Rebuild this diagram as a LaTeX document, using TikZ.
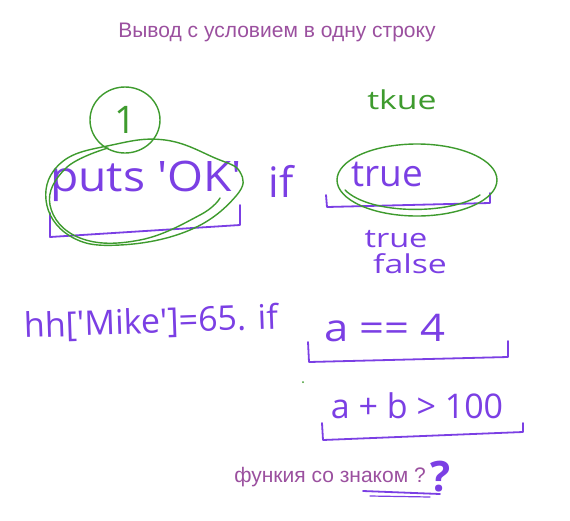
\documentclass[tikz,border=0pt]{standalone}
\usepackage{fontspec}
\setmainfont{Liberation Sans}
\newfontfamily\handfont{Open Sans}
\definecolor{inkviolet}{HTML}{7B3FE4}
\definecolor{inkgreen}{HTML}{3E9B2E}
\definecolor{titlepurple}{HTML}{9B509F}
\tikzset{every path/.style={line cap=round,line join=round}}
\tikzset{
  ink/.style={text=inkviolet, inner sep=0pt, font=\handfont\fontsize{34}{34}\selectfont},
  bigink/.style={ink, font=\handfont\fontsize{42}{42}\selectfont},
  smallink/.style={ink, font=\handfont\fontsize{26}{26}\selectfont},
  greenink/.style={draw=inkgreen, line width=1.4pt},
  bracketline/.style={draw=inkviolet, line width=1.8pt},
  caption/.style={text=titlepurple, inner sep=0pt, font=\fontsize{21}{21}\selectfont}
}

\begin{document}
\begin{tikzpicture}[x=1pt,y=-1pt]
% whiteboard page, pixel units, y grows downwards
	\useasboundingbox[fill=white] (0,0) rectangle (570,520);
	\node[caption] (title) at (277,32) {Вывод с условием в одну строку};
	%First line: puts 'OK' if true
	\node[bigink, xscale=1.1] (puts) at (146,181) {puts \textquotesingle OK\textquotesingle};
	\node[bigink] (ifa) at (281,181) {if};
	\node[ink, font=\handfont\fontsize{37}{37}\selectfont] (cond) at (387,174) {true};
	\node[smallink, text=inkgreen, xscale=1.3] (tkue) at (402,100) {tkue};
	\node[smallink, xscale=1.25] (vtrue) at (396,239) {true};
	\node[smallink, xscale=1.3] (vfalse) at (410,264) {false};
	% brackets under the first line
	\draw[bracketline] (50,213) -- (50,237) -- (240,225) -- (240,205);
	\draw[bracketline] (326,195) -- (327,207) -- (490,203) -- (490,193);
	%Circled number and green loops
	\draw[greenink] (125,120) ellipse [x radius=35, y radius=33];
	\node[ink, text=inkgreen, font=\handfont\fontsize{38}{38}\selectfont] (one) at (125,120) {1};
	\draw[greenink] plot[smooth cycle, tension=0.7] coordinates {(112,145) (62,162) (46,200) (70,236) (120,245) (190,230) (236,196) (240,172) (215,158) (165,140)};
	\draw[greenink] plot[smooth, tension=0.7] coordinates {(108,148) (66,168) (50,205) (80,238) (140,240) (200,215) (220,198)};
	\draw[greenink] (417,180) ellipse [x radius=80, y radius=36];
	\draw[greenink] (345,190) .. controls (370,215) and (450,215) .. (480,195);
	%Second block: conditions
	\node[ink, rotate=2] (hash) at (151,323) {hh[\textquotesingle Mike\textquotesingle]=65. if};
	\node[ink, font=\handfont\fontsize{38}{38}\selectfont, xscale=1.15] (eqn) at (385,328) {a == 4};
	\draw[bracketline] (308,342) -- (309,362) -- (508,357) -- (508,341);
	\fill[inkgreen] (303,382) circle (1);
	\node[ink] (sum) at (417,406) {a + b > 100};
	\draw[bracketline] (322,423) -- (323,440) -- (523,432) -- (523,423);
	%Bottom question
	\node[caption] (question) at (330,477) {функия со знаком ?};
	\node[ink, font=\handfont\bfseries\fontsize{42}{42}\selectfont] (qmark) at (441,477) {?};
	\draw[bracketline] (363,491) -- (440,494);
	\draw[bracketline, line width=1.2pt] (370,496) -- (430,497);
  \end{tikzpicture}
\end{document}
